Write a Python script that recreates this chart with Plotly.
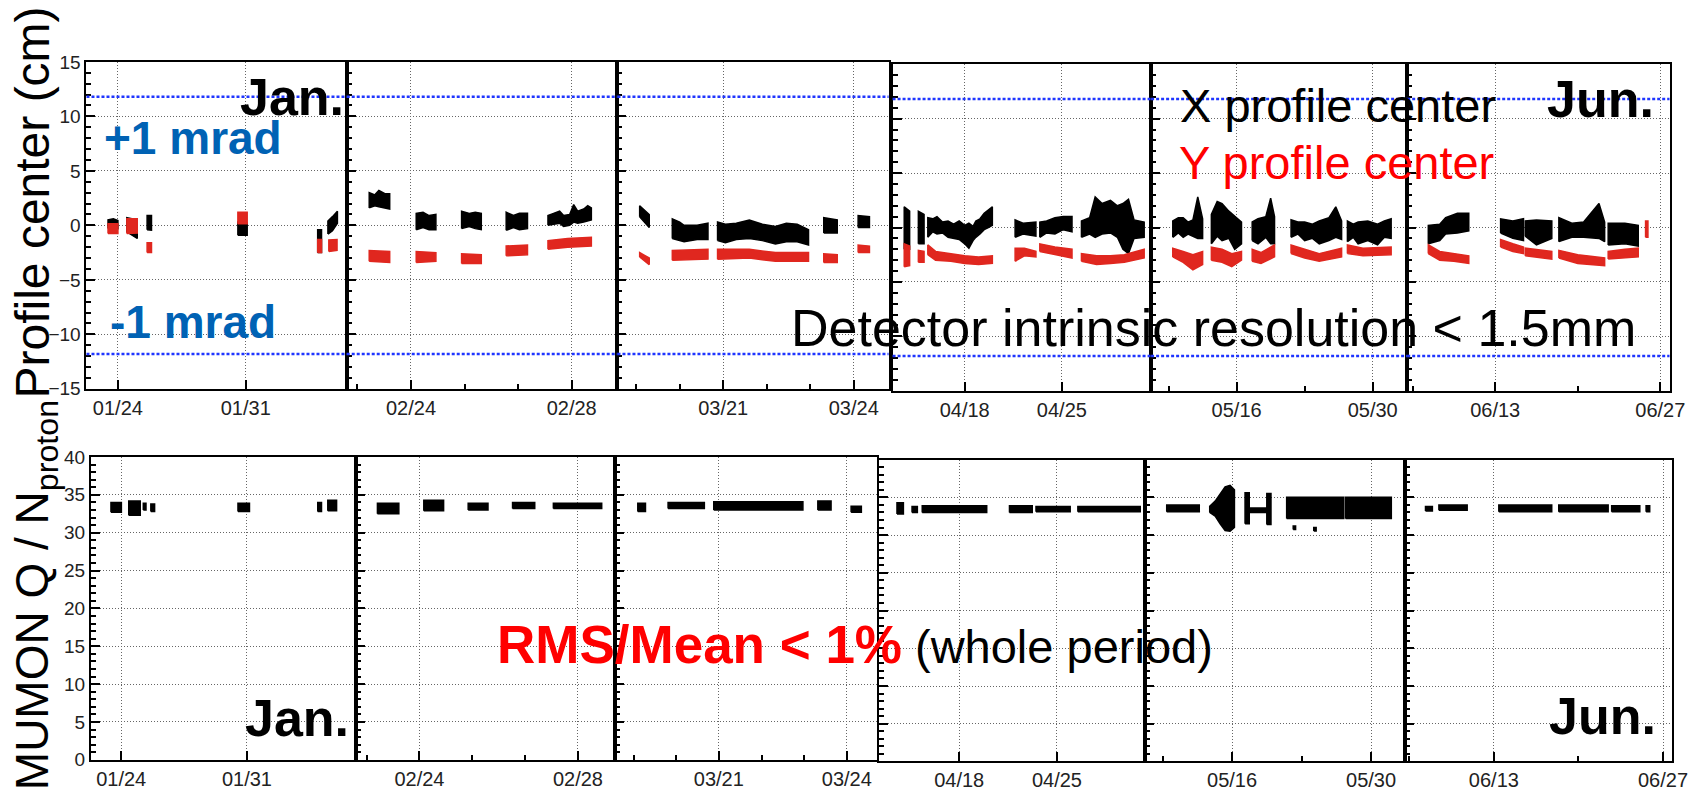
import plotly.graph_objects as go

W, H = 1708, 802

# ------------------------------------------------------------------
# DATA  (x = day of year 2010, bands given as (day, low, high))
# ------------------------------------------------------------------
MRAD_CM = 11.8  # +-1 mrad in cm at the detector

TICK_DAYS = [[24, 31], [55, 59], [80, 83], [108, 115], [136, 150], [164, 178]]
TICK_LABELS = [["01/24", "01/31"], ["02/24", "02/28"], ["03/21", "03/24"],
               ["04/18", "04/25"], ["05/16", "05/30"], ["06/13", "06/27"]]

# X profile center (cm)
X_JAN = [[(23.46, -0.3, 0.5), (23.75, -0.2, 0.6), (24.0, -0.3, 0.45)],
         [(24.49, -0.6, 0.7), (24.75, -0.9, 0.6), (25.06, -1.2, 0.5)],
         [(25.6, -0.4, 0.9), (25.84, -0.45, 0.9)],
         [(30.57, -0.9, 0.3), (31.08, -0.9, 0.2)],
         [(34.94, -2.5, -0.4), (35.15, -2.5, -0.4)],
         [(35.5, -0.8, 0.4), (35.75, -0.5, 0.8), (36.02, 0.2, 1.3)]]
X_FEB = [[(53.96, 1.6, 3.0), (54.1, 1.8, 2.8), (54.2, 1.7, 3.2), (54.35, 1.6, 2.9), (54.47, 1.5, 2.9)],
         [(55.13, -0.4, 1.1), (55.3, -0.2, 1.2), (55.45, -0.4, 0.9), (55.62, -0.4, 1.0)],
         [(56.26, -0.3, 1.3), (56.45, -0.1, 1.1), (56.6, -0.3, 1.2), (56.75, -0.4, 1.1)],
         [(57.37, -0.45, 1.2), (57.55, -0.2, 0.9), (57.7, -0.4, 1.1), (57.9, -0.3, 1.1)],
         [(58.41, 0.0, 0.9), (58.55, 0.1, 1.1), (58.7, 0.2, 1.3), (58.8, -0.1, 0.9),
          (58.95, 0.0, 1.0), (59.05, 0.3, 1.9), (59.15, 0.2, 1.3), (59.3, 0.3, 1.5),
          (59.4, 0.4, 1.8), (59.49, 0.5, 1.6)]]
X_MAR = [[(78.08, 0.8, 1.8), (78.3, -0.2, 1.0)],
         [(78.83, -1.2, 0.6), (79.0, -1.4, 0.3), (79.1, -1.5, 0.0), (79.4, -1.3, 0.0), (79.65, -1.3, 0.2)],
         [(79.87, -1.4, 0.3), (80.05, -1.6, 0.1), (80.3, -1.3, 0.2), (80.6, -1.2, 0.5),
          (80.9, -1.4, 0.1), (81.2, -1.7, -0.1), (81.45, -1.5, 0.2), (81.7, -1.5, 0.1),
          (81.96, -1.8, -0.4)],
         [(82.31, -0.7, 0.7), (82.62, -0.7, 0.5)],
         [(83.1, -0.2, 0.9), (83.36, -0.2, 0.8)]]
X_APR = [[(103.64, -2.0, 1.9), (104.03, -2.0, 1.5)],
         [(104.66, -1.5, 1.5), (105.07, -1.5, 1.2)],
         [(105.34, -0.9, 0.9), (105.7, -0.4, 0.8), (106.0, -0.6, 1.0), (106.4, -0.5, 0.5),
          (106.8, -0.9, 0.6), (107.2, -1.0, 0.3), (107.6, -1.1, 0.6), (108.0, -1.5, 0.2),
          (108.3, -1.9, 0.4), (108.6, -1.2, 0.1), (108.8, -0.9, 0.6), (109.1, -0.6, 0.8),
          (109.4, -0.2, 1.3), (109.7, 0.0, 1.6), (109.99, 0.2, 1.9)],
         [(111.63, -0.9, 0.7), (112.2, -0.6, 0.4), (113.13, -0.8, 0.5)],
         [(113.41, -0.9, 0.5), (113.9, -0.5, 0.6), (114.5, -0.6, 0.9), (115.1, -0.2, 1.0), (115.73, -0.4, 1.0)],
         [(116.41, -0.9, 0.6), (117.0, -0.6, 0.9), (117.4, -0.9, 2.8), (117.9, -0.6, 2.2),
          (118.5, -0.5, 2.5), (119.0, -0.9, 2.0), (119.4, -2.0, 2.2), (119.8, -2.4, 2.6),
          (120.2, -1.0, 0.7), (120.93, -0.9, 0.5)]]
X_MAY = [[(129.43, -0.9, 0.6), (130.0, -0.5, 0.9), (130.5, -0.9, 0.9), (131.0, -0.6, 0.5),
          (131.5, -0.8, 0.7), (132.0, -1.0, 2.8), (132.5, -1.0, 0.8)],
         [(133.4, -1.5, 1.2), (134.0, -0.8, 2.4), (134.5, -1.2, 2.2), (135.2, -1.0, 1.5),
          (135.8, -2.0, 1.0), (136.5, -1.5, 0.5)],
         [(137.6, -1.2, 0.5), (138.2, -1.5, 0.8), (139.0, -0.9, 1.0), (139.5, -1.5, 2.7),
          (139.9, -1.5, 1.0)],
         [(141.6, -0.9, 0.7), (142.3, -0.6, 0.5), (143.0, -1.2, 0.5), (143.8, -1.0, 0.3),
          (144.5, -1.5, 0.6), (145.5, -1.2, 0.9), (146.2, -0.9, 1.9), (146.8, -1.1, 0.6)],
         [(147.4, -1.3, 0.6), (148.0, -0.9, 0.3), (148.5, -1.5, 0.5), (149.5, -1.2, 0.6),
          (150.5, -1.6, 0.3), (151.2, -0.9, 0.6), (151.9, -1.0, 0.8)]]
X_JUN = [[(158.33, -1.5, 0.2), (159.3, -1.2, 0.3), (159.8, -0.6, 0.9), (160.8, -0.5, 1.3),
          (161.76, -0.3, 1.3)],
         [(164.46, -0.5, 0.8), (165.5, -1.0, 0.6), (166.4, -1.2, 0.8)],
         [(166.55, -0.8, 0.6), (167.5, -1.6, 0.7), (168.8, -1.0, 0.6)],
         [(169.4, -1.3, 0.9), (170.5, -0.9, 0.4), (171.5, -0.9, 0.5), (172.8, -1.0, 2.2),
          (173.28, -1.3, 0.5)],
         [(173.58, -1.6, 0.4), (175.0, -1.5, 0.4), (176.13, -1.7, 0.2)]]

# Y profile center (cm)
Y_JAN = [[(23.46, -0.75, 0.15), (24.0, -0.75, 0.15)],
         [(24.49, -0.75, 0.6), (25.06, -0.7, 0.6)],
         [(25.6, -2.5, -1.6), (25.84, -2.5, -1.6)],
         [(30.57, 0.15, 1.2), (31.08, 0.15, 1.2)],
         [(34.94, -2.5, -1.3), (35.15, -2.5, -1.3)],
         [(35.55, -2.4, -1.35), (36.0, -2.3, -1.3)]]
Y_FEB = [[(53.96, -3.3, -2.3), (54.47, -3.4, -2.4)],
         [(55.13, -3.4, -2.4), (55.62, -3.3, -2.5)],
         [(56.26, -3.5, -2.6), (56.75, -3.5, -2.7)],
         [(57.37, -2.8, -1.9), (57.9, -2.7, -1.8)],
         [(58.41, -2.2, -1.4), (58.9, -2.0, -1.2), (59.49, -1.9, -1.1)]]
Y_MAR = [[(78.08, -2.9, -2.5), (78.3, -3.6, -3.0)],
         [(78.83, -3.2, -2.3), (79.65, -3.1, -2.2)],
         [(79.87, -3.1, -2.2), (80.6, -3.0, -2.2), (81.2, -3.3, -2.5), (81.96, -3.3, -2.5)],
         [(82.31, -3.4, -2.6), (82.62, -3.4, -2.7)],
         [(83.1, -2.5, -1.8), (83.36, -2.5, -1.9)]]
Y_APR = [[(103.64, -3.6, -1.5), (104.03, -3.5, -1.7)],
         [(104.66, -3.2, -2.1), (105.07, -3.2, -2.2)],
         [(105.34, -2.5, -1.6), (105.9, -3.0, -2.2), (107.0, -3.1, -2.4), (108.0, -3.3, -2.6),
          (109.0, -3.4, -2.7), (109.99, -3.3, -2.6)],
         [(111.63, -3.1, -1.9), (112.3, -2.6, -1.9), (113.13, -2.7, -2.2)],
         [(113.41, -2.2, -1.5), (114.5, -2.5, -1.8), (115.73, -2.8, -2.0)],
         [(116.41, -3.1, -2.4), (117.5, -3.4, -2.6), (118.5, -3.3, -2.6), (119.5, -3.2, -2.5),
          (120.93, -2.8, -2.0)]]
Y_MAY = [[(129.43, -2.7, -1.9), (130.5, -3.2, -2.2), (131.5, -3.9, -2.5), (132.5, -3.4, -2.2)],
         [(133.4, -3.0, -1.8), (134.5, -3.2, -2.0), (135.5, -3.6, -2.4), (136.5, -3.0, -2.2)],
         [(137.6, -3.1, -2.0), (138.5, -3.3, -2.3), (139.9, -2.7, -1.6)],
         [(141.6, -2.4, -1.6), (143.0, -2.8, -2.0), (144.5, -3.1, -2.4), (146.8, -2.7, -1.9)],
         [(147.4, -2.4, -1.6), (149.0, -2.6, -1.9), (151.9, -2.5, -1.8)]]
Y_JUN = [[(158.33, -2.4, -1.6), (159.3, -3.0, -2.2), (160.5, -3.1, -2.4), (161.76, -3.3, -2.6)],
         [(164.46, -1.8, -1.1), (165.5, -2.2, -1.5), (166.4, -2.4, -1.8)],
         [(166.55, -2.6, -1.9), (168.8, -2.9, -2.2)],
         [(169.4, -2.8, -2.1), (171.0, -3.3, -2.5), (173.28, -3.5, -2.8)],
         [(173.58, -2.9, -2.2), (175.0, -2.8, -2.0), (176.13, -2.7, -1.9)],
         [(176.75, -0.9, 0.6), (176.95, -0.9, 0.6)]]

# MUMON Q / N_proton
Q_JAN = [[(23.43, 32.7, 34.0), (24.01, 32.7, 34.0)],
         [(24.42, 32.3, 34.2), (25.06, 32.3, 34.2)],
         [(25.23, 33.0, 33.9), (25.38, 33.0, 33.9)],
         [(25.65, 32.8, 33.8), (25.86, 32.8, 33.8)],
         [(30.5, 32.8, 33.9), (31.14, 32.8, 33.9)],
         [(34.94, 32.8, 34.0), (35.15, 32.8, 34.0)],
         [(35.5, 32.9, 34.3), (35.99, 32.9, 34.3)]]
Q_FEB = [[(53.94, 32.5, 33.9), (54.48, 32.5, 33.9)],
         [(55.11, 32.9, 34.3), (55.61, 32.9, 34.3)],
         [(56.23, 33.0, 33.9), (56.73, 33.0, 33.9)],
         [(57.35, 33.2, 34.0), (57.91, 33.2, 34.0)],
         [(58.38, 33.2, 33.9), (59.6, 33.2, 33.9)]]
Q_MAR = [[(78.1, 32.8, 33.9), (78.28, 32.8, 33.9)],
         [(78.81, 33.2, 34.0), (79.66, 33.2, 34.0)],
         [(79.88, 33.0, 34.1), (81.97, 33.0, 34.1)],
         [(82.32, 33.0, 34.2), (82.63, 33.0, 34.2)],
         [(83.1, 32.7, 33.5), (83.34, 32.7, 33.5)]]
Q_APR = [[(103.54, 32.8, 34.3), (104.0, 32.8, 34.3)],
         [(104.62, 33.0, 33.8), (105.0, 33.0, 33.8)],
         [(105.35, 33.0, 33.9), (109.97, 33.0, 33.9)],
         [(111.6, 33.0, 33.9), (113.23, 33.0, 33.9)],
         [(113.5, 33.1, 33.8), (115.95, 33.1, 33.8)],
         [(116.5, 33.1, 33.8), (120.97, 33.1, 33.8)]]
Q_MAY = [[(129.42, 33.1, 34.0), (132.7, 33.1, 34.0)],
         [(133.75, 33.0, 33.8), (134.3, 32.5, 34.5), (134.8, 31.5, 35.5), (135.3, 30.6, 36.4),
          (135.8, 30.5, 36.6), (136.24, 31.0, 36.0)],
         [(137.31, 31.5, 35.6), (137.73, 31.5, 35.6)],
         [(137.73, 33.0, 33.6), (139.5, 33.0, 33.6)],
         [(139.5, 31.4, 35.5), (139.92, 31.4, 35.5)],
         [(141.5, 32.2, 35.0), (147.25, 32.2, 35.0)],
         [(147.43, 32.2, 35.0), (152.04, 32.2, 35.0)],
         [(142.16, 30.75, 31.2), (142.4, 30.75, 31.2)],
         [(144.23, 30.55, 31.0), (144.47, 30.55, 31.0)]]
Q_JUN = [[(158.34, 33.2, 33.8), (158.91, 33.2, 33.8)],
         [(159.45, 33.3, 34.0), (161.79, 33.3, 34.0)],
         [(164.41, 33.1, 34.0), (168.79, 33.1, 34.0)],
         [(169.37, 33.1, 34.0), (173.46, 33.1, 34.0)],
         [(173.75, 33.1, 33.9), (176.08, 33.1, 33.9)],
         [(176.6, 33.1, 33.9), (176.9, 33.1, 33.9)]]

X_CENTER = [X_JAN, X_FEB, X_MAR, X_APR, X_MAY, X_JUN]
Y_CENTER = [Y_JAN, Y_FEB, Y_MAR, Y_APR, Y_MAY, Y_JUN]
Q_RATIO = [Q_JAN, Q_FEB, Q_MAR, Q_APR, Q_MAY, Q_JUN]

# ------------------------------------------------------------------
# LAYOUT (pixel geometry of the 12 pasted panels)
# ------------------------------------------------------------------
TOP_BOX = [(87.3, 350, 53.3, 389), (350, 623.3, 53.3, 389), (623.3, 897, 53.3, 389),
           (901, 1162, 55.7, 391), (1162, 1420.5, 55.7, 391), (1420.5, 1685.3, 55.7, 391)]
BOT_BOX = [(91.7, 359, 459, 770), (359, 621, 459, 770), (621, 885, 459, 770),
           (887.7, 1155.7, 461.7, 771.7), (1155.7, 1418, 461.7, 771.7), (1418, 1688, 461.7, 771.7)]
TOP_XR = [(22.28, 36.53), (53.4, 60.14), (77.57, 83.8), (102.8, 121.43), (127.2, 153.55), (156.54, 178.78)]
BOT_XR = [(22.31, 37.05), (53.39, 59.94), (77.57, 83.70), (102.28, 121.3), (127.22, 153.39), (156.62, 178.76)]
MINOR = [None, (55, 4 / 3), (80, 1), None, (136, 7), (164, 7)]

FONT = "Liberation Sans, Arial, Helvetica, sans-serif"
BLACK_BAND = "#000000"
RED_BAND = "#e0271f"
GRID = dict(showgrid=True, gridcolor="#666666", gridwidth=1, griddash="1px,2px")


def polygon(segments):
    xs, ys = [], []
    for seg in segments:
        t = [p[0] for p in seg]
        lo = [p[1] for p in seg]
        hi = [p[2] for p in seg]
        xs += t + t[::-1] + [t[0], None]
        ys += lo + hi[::-1] + [lo[0], None]
    return xs, ys


fig = go.Figure()
layout = dict(width=W, height=H, margin=dict(l=0, r=0, t=0, b=0),
              paper_bgcolor="white", plot_bgcolor="white", showlegend=False)
shapes = []


def px_dom(x0, x1, y0, y1):
    return [x0 / W, x1 / W], [1 - y1 / H, 1 - y0 / H]


for row in range(2):
    for i in range(6):
        n = row * 6 + i + 1
        sfx = "" if n == 1 else str(n)
        box = TOP_BOX[i] if row == 0 else BOT_BOX[i]
        xr = TOP_XR[i] if row == 0 else BOT_XR[i]
        xd, yd = px_dom(*box)
        xax = dict(domain=xd, range=list(xr), anchor="y" + sfx,
                   tickmode="array", tickvals=TICK_DAYS[i], ticktext=TICK_LABELS[i],
                   ticks="inside", ticklen=9, tickwidth=1.5, tickcolor="black",
                   showline=True, linecolor="black", linewidth=2, mirror=True,
                   zeroline=False, tickfont=dict(family=FONT, size=20, color="#222"),
                   **GRID)
        if MINOR[i] is not None:
            xax["minor"] = dict(tick0=MINOR[i][0], dtick=MINOR[i][1], ticks="inside",
                                ticklen=5, tickwidth=1.5, tickcolor="black", showgrid=False)
        if row == 0:
            yax = dict(range=[-15, 15], dtick=5, tick0=0)
        else:
            yax = dict(range=[0, 40], dtick=5, tick0=0)
        yax.update(domain=yd, anchor="x" + sfx, ticks="inside", ticklen=9, tickwidth=1.5,
                   tickcolor="black", showline=True, linecolor="black", linewidth=2,
                   mirror=True, zeroline=False, showticklabels=(i == 0),
                   minor=dict(dtick=1, ticks="inside", ticklen=5, tickwidth=1.5,
                              tickcolor="black", showgrid=False),
                   tickfont=dict(family=FONT, size=19, color="#222"), **GRID)
        layout["xaxis" + sfx] = xax
        layout["yaxis" + sfx] = yax

        if row == 0:
            for series, col in ((X_CENTER[i], BLACK_BAND), (Y_CENTER[i], RED_BAND)):
                xs, ys = polygon(series)
                fig.add_trace(go.Scatter(x=xs, y=ys, mode="lines", fill="toself",
                                         fillcolor=col, line=dict(color=col, width=1.5),
                                         xaxis="x" + sfx, yaxis="y" + sfx, hoverinfo="skip"))
            for v in (MRAD_CM, -MRAD_CM):
                shapes.append(dict(type="line", xref="x" + sfx + " domain", x0=0, x1=1,
                                   yref="y" + sfx, y0=v, y1=v,
                                   line=dict(color="#1f35ff", width=2.5, dash="3px,2px")))
        else:
            xs, ys = polygon(Q_RATIO[i])
            fig.add_trace(go.Scatter(x=xs, y=ys, mode="lines", fill="toself",
                                     fillcolor=BLACK_BAND, line=dict(color=BLACK_BAND, width=1.5),
                                     xaxis="x" + sfx, yaxis="y" + sfx, hoverinfo="skip"))

layout["shapes"] = shapes


def ann(text, x, y, size, color="black", bold=False, xanchor="left", yanchor="middle", angle=0):
    return dict(text=("<b>%s</b>" % text) if bold else text, x=x / W, y=1 - y / H,
                xref="paper", yref="paper", xanchor=xanchor, yanchor=yanchor,
                showarrow=False, textangle=angle, borderpad=0,
                font=dict(family=FONT, size=size, color=color))


annotations = [
    ann("Jan.", 348, 89, 52, bold=True, xanchor="right"),
    ann("+1 mrad", 104, 131, 46, color="#0062b4", bold=True),
    ann("-1 mrad", 110, 320, 46, color="#0062b4", bold=True),
    ann("X profile center", 1190, 98, 47),
    ann("Y profile center", 1189, 157, 47, color="#ff0000"),
    ann("Jun.", 1671, 91, 52, bold=True, xanchor="right"),
    ann("Detector intrinsic resolution &lt; 1.5mm", 797, 327, 52),
    ann("RMS/Mean &lt; 1%", 501, 652, 53, color="#ff0000", bold=True),
    ann("(whole period)", 923, 654, 47),
    ann("Jan.", 353, 727, 52, bold=True, xanchor="right"),
    ann("Jun.", 1673, 725, 52, bold=True, xanchor="right"),
    ann("Profile center (cm)", 33, 198, 48, xanchor="center", angle=-90),
    ann("MUMON Q / N<sub>proton</sub>", 36, 400, 46, xanchor="center", yanchor="top", angle=-90),
]
layout["annotations"] = annotations

fig.update_layout(**layout)
fig.write_html("out.html")
